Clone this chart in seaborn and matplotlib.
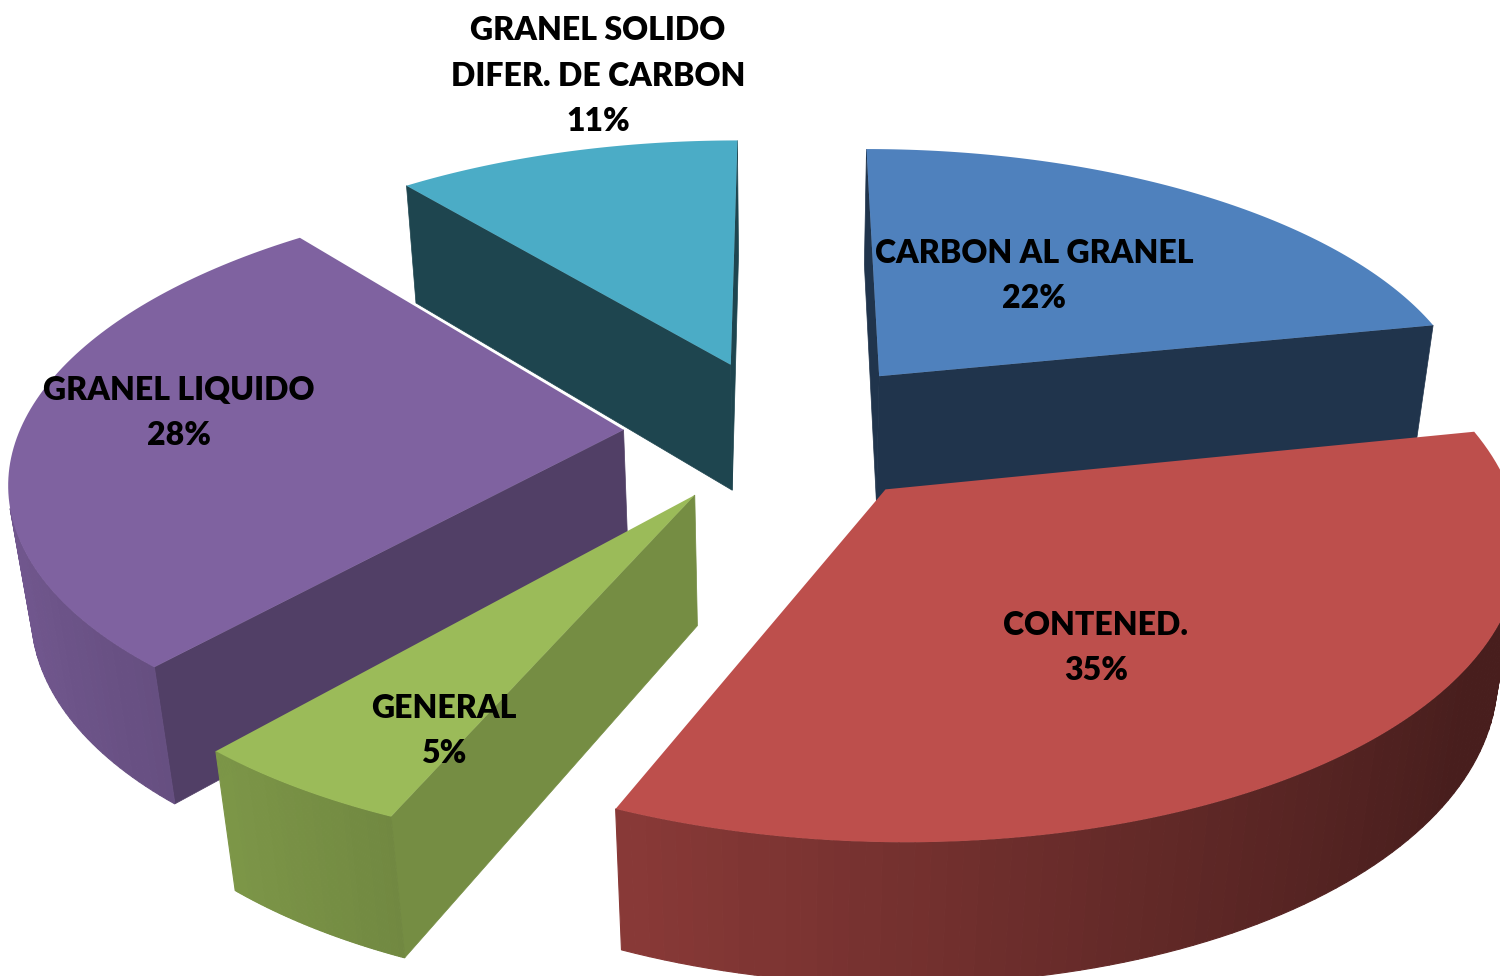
import numpy as np
import matplotlib
matplotlib.use('Agg')
import matplotlib.pyplot as plt
import seaborn as sns

# chart data, clockwise from 12 o'clock
categories = ['CARBON AL GRANEL', 'CONTENED.', 'GENERAL', 'GRANEL LIQUIDO', 'GRANEL SOLIDO\nDIFER. DE CARBON']
shares = [22, 35, 5, 28, 11]

# styling per slice
top_colors = ['#4f81bd', '#bd4f4c', '#9bbb59', '#7f62a0', '#4bacc6']
flat_shade = [0.40, 0.40, 0.75, 0.64, 0.40]
label_pos = [(1034, 276), (1096, 648), (444, 731), (179, 413), (598, 76)]
draw_order = [4, 0, 3, 2, 1]

# perspective view of the pie, in pixels
CX, CY = 782, 431
SX, SY = 604, 278
PERSP = 0.155
EXPLODE = 0.2625
DEPTH = 132
DEPTH_W = 0.03


def project(x, y, drop=0.0):
    # x, y on the pie plane (y goes away from viewer), drop 0..1 is down the side
    w = 1 + PERSP * y + DEPTH_W * drop
    return CX + SX * x / w, CY - (SY * y - DEPTH * drop) / w


def area(pts):
    xs, ys = np.array(pts).T
    return 0.5 * np.sum(xs * np.roll(ys, -1) - np.roll(xs, -1) * ys)


def draw_slice(ax, start, end, color, flat):
    shades = sns.blend_palette(['black', color], 401)
    mid = (start + end) / 2
    ox, oy = EXPLODE * np.sin(mid), EXPLODE * np.cos(mid)
    a = np.linspace(start, end, 100)
    rx, ry = ox + np.sin(a), oy + np.cos(a)

    # cut faces, only the ones turned to the viewer
    faces = [(rx[0], ry[0], -1), (rx[-1], ry[-1], 1)]
    for fx, fy, sign in faces:
        quad = [project(ox, oy), project(fx, fy), project(fx, fy, 1), project(ox, oy, 1)]
        if area(quad) * sign > 0:
            ax.fill(*zip(*quad), color=shades[int(flat * 400)], lw=0.5, zorder=1)

    # curved side as thin strips so the shading runs along it
    for i in range(len(a) - 1):
        quad = [project(rx[i], ry[i]), project(rx[i + 1], ry[i + 1]),
                project(rx[i + 1], ry[i + 1], 1), project(rx[i], ry[i], 1)]
        if area(quad) < 0:
            f = np.clip(0.62 - 0.28 * np.sin(a[i]), 0.38, 0.92)
            ax.fill(*zip(*quad), color=shades[int(f * 400)], lw=0.8, zorder=1)

    top = [project(ox, oy)] + [project(x, y) for x, y in zip(rx, ry)]
    ax.fill(*zip(*top), color=color, lw=0, zorder=1)


sns.set_theme(style='white')
plt.rcParams['font.family'] = ['Lato', 'DejaVu Sans']

fig, ax = plt.subplots(figsize=(15, 9.76), dpi=100)
ax.set_position([0, 0, 1, 1])
ax.set_xlim(0, 1500)
ax.set_ylim(976, 0)
ax.axis('off')

edges = np.radians(np.concatenate([[0], np.cumsum(shares)]) / sum(shares) * 360)
for i in draw_order:
    draw_slice(ax, edges[i], edges[i + 1], top_colors[i], flat_shade[i])

for name, share, (x, y) in zip(categories, shares, label_pos):
    ax.text(x, y, f'{name}\n{share}%', ha='center', va='center', fontsize=23,
            fontweight='heavy', color='black', linespacing=1.68, zorder=5)

fig.savefig('out.png', dpi=100)
